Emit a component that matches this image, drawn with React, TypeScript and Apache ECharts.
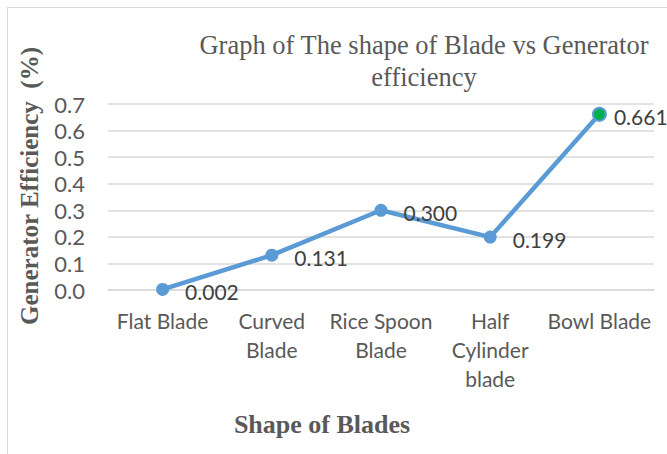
import React, { useEffect, useRef } from "react";
import * as echarts from "echarts";

const categories = ["Flat Blade", "Curved\nBlade", "Rice Spoon\nBlade", "Half\nCylinder\nblade", "Bowl Blade"];
const efficiency = [0.002, 0.131, 0.3, 0.199, 0.661];
const labelTexts = ["0.002", "0.131", "0.300", "0.199", "0.661"];
const titleText = "Graph of The shape of Blade vs Generator\nefficiency";
const yAxisName = "Generator Efficiency  (%)";
const xAxisName = "Shape of Blades";

export default function App() {
  const ref = useRef<HTMLDivElement>(null);
  useEffect(() => {
    if (!ref.current) return;
    const chart = echarts.init(ref.current, null, { renderer: "svg" });
    const sans = "Lato, 'Open Sans', sans-serif";
    const serif = "'Liberation Serif', 'DejaVu Serif', serif";
    chart.setOption({
      animation: false,
      backgroundColor: "#ffffff",
      title: {
        text: titleText,
        left: 419,
        top: 24,
        textAlign: "center",
        textStyle: {
          fontFamily: serif,
          fontWeight: "normal",
          fontSize: 26.5,
          color: "#595959",
          lineHeight: 32,
        },
      },
      graphic: [
        { type: "line", shape: { x1: 7, y1: 7.5, x2: 667, y2: 7.5 }, style: { stroke: "#D9D9D9", lineWidth: 1 } },
        { type: "line", shape: { x1: 7.5, y1: 7, x2: 7.5, y2: 454 }, style: { stroke: "#D9D9D9", lineWidth: 1 } },
      ],
      grid: { left: 108, right: 13, top: 104, bottom: 164, containLabel: false },
      xAxis: {
        type: "category",
        data: categories,
        boundaryGap: true,
        axisTick: { show: false },
        axisLine: { lineStyle: { color: "#D9D9D9", width: 1.5 } },
        axisLabel: {
          interval: 0,
          margin: 16,
          fontFamily: sans,
          fontSize: 21,
          color: "#595959",
          lineHeight: 29,
        },
        name: xAxisName,
        nameLocation: "middle",
        nameGap: 121,
        nameTextStyle: {
          fontFamily: serif,
          fontWeight: "bold",
          fontSize: 26,
          color: "#595959",
          padding: [0, 118, 0, 0],
        },
      },
      yAxis: {
        type: "value",
        min: 0,
        max: 0.7,
        interval: 0.1,
        axisLine: { show: false },
        axisTick: { show: false },
        splitLine: { lineStyle: { color: "#D9D9D9", width: 1.5 } },
        axisLabel: {
          margin: 23,
          fontFamily: sans,
          fontSize: 22,
          color: "#595959",
          formatter: (v: number) => v.toFixed(1),
        },
        name: yAxisName,
        nameLocation: "middle",
        nameGap: 66,
        nameTextStyle: {
          fontFamily: serif,
          fontWeight: "bold",
          fontSize: 25,
          color: "#595959",
          padding: [0, 0, 0, 22],
        },
      },
      series: [
        {
          type: "line",
          data: efficiency.map((v, i) => ({
            value: v,
            itemStyle:
              i === efficiency.length - 1
                ? { color: "#00B050", borderColor: "#5B9BD5", borderWidth: 2 }
                : undefined,
            label: i === efficiency.length - 1 ? { distance: 7 } : undefined,
          })),
          symbol: "circle",
          symbolSize: 13,
          lineStyle: { color: "#5B9BD5", width: 4.5 },
          itemStyle: { color: "#5B9BD5" },
          label: {
            show: true,
            position: "right",
            distance: 16,
            offset: [0, 2],
            fontFamily: sans,
            fontSize: 21,
            color: "#404040",
            formatter: (p: any) => labelTexts[p.dataIndex],
          },
        },
      ],
    });
    return () => chart.dispose();
  }, []);
  return (
    <div
      ref={ref}
      style={{ position: "fixed", left: 0, top: 0, width: 667, height: 454 }}
    />
  );
}
